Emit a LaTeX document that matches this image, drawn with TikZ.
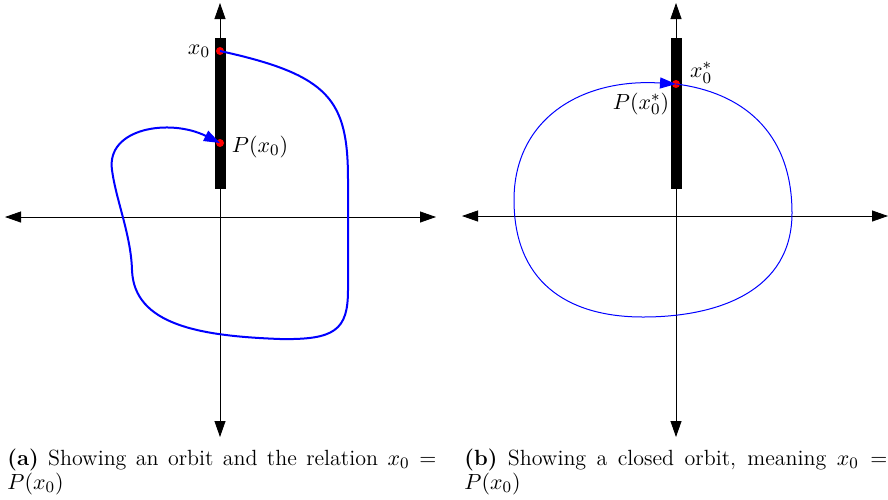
\documentclass[tikz,border=0pt]{standalone}
\usetikzlibrary{arrows.meta}
\begin{document}
\begin{tikzpicture}[x=0.5pt,y=-0.5pt,font=\fontsize{11}{12}\selectfont,
  axis/.style={line width=0.4pt,{Triangle[length=8pt,width=5.5pt]}-{Triangle[length=8pt,width=5.5pt]}},
  bar/.style={fill=black,draw=none},
  dot/.style={circle,fill=red,inner sep=0pt,minimum size=4pt},
  orbitA/.style={blue,line width=1pt,-{Triangle[length=8pt,width=5.5pt]}},
  orbitB/.style={blue,line width=0.5pt,-{Triangle[length=8pt,width=5.5pt]}},
  lbl/.style={inner sep=0pt},
  captext/.style={anchor=base west,inner sep=0pt,align=justify}]
\useasboundingbox (0,0) rectangle (888,499);
% ---------- left panel ----------
\coordinate (aL) at (5,217); \coordinate (aR) at (436,217);
\coordinate (aT) at (220,3); \coordinate (aB) at (220,437);
\draw[axis] (aL) -- (aR);
\draw[axis] (aT) -- (aB);
\fill[bar] (214.5,38) rectangle (225.5,189);
\node[dot] (x0) at (220,51) {};
\node[dot] (px0) at (220,143) {};
\draw[orbitA] (x0.center) .. controls (330,75) and (348,100) .. (348,180)
  -- (348,290) .. controls (348,330) and (335,340) .. (280,339)
  .. controls (200,336) and (134,325) .. (132,270)
  .. controls (131,235) and (116,200) .. (112,170)
  .. controls (106,128) and (170,118) .. (px0.center);
\node[lbl] (lx0) at (199,51) {$x_0$};
\node[lbl] (lpx0) at (260,147) {$P(x_0)$};
\node[captext,text width=214.5pt] (capa) at (7,465) {\textbf{(a)} Showing an orbit and the relation $x_0 = P(x_0)$};
% ---------- right panel ----------
\coordinate (bL) at (462,216); \coordinate (bR) at (888,216);
\coordinate (bT) at (676,3); \coordinate (bB) at (676,437);
\draw[axis] (bL) -- (bR);
\draw[axis] (bT) -- (bB);
\fill[bar] (670.5,38) rectangle (681.5,189);
\node[dot] (xs) at (676,84) {};
\draw[orbitB] (xs.center) .. controls (740,92) and (792,130) .. (792,213)
  .. controls (792,290) and (720,317) .. (643,317)
  .. controls (565,317) and (514,280) .. (514,200)
  .. controls (514,120) and (580,78) .. (xs.center);
\node[lbl] (lxs) at (701,73) {$x_0^*$};
\node[lbl] (lpxs) at (641,104) {$P(x_0^*)$};
\node[captext,text width=211.5pt] (capb) at (464,465) {\textbf{(b)} Showing a closed orbit, meaning $x_0 = P(x_0)$};
\end{tikzpicture}
\end{document}
